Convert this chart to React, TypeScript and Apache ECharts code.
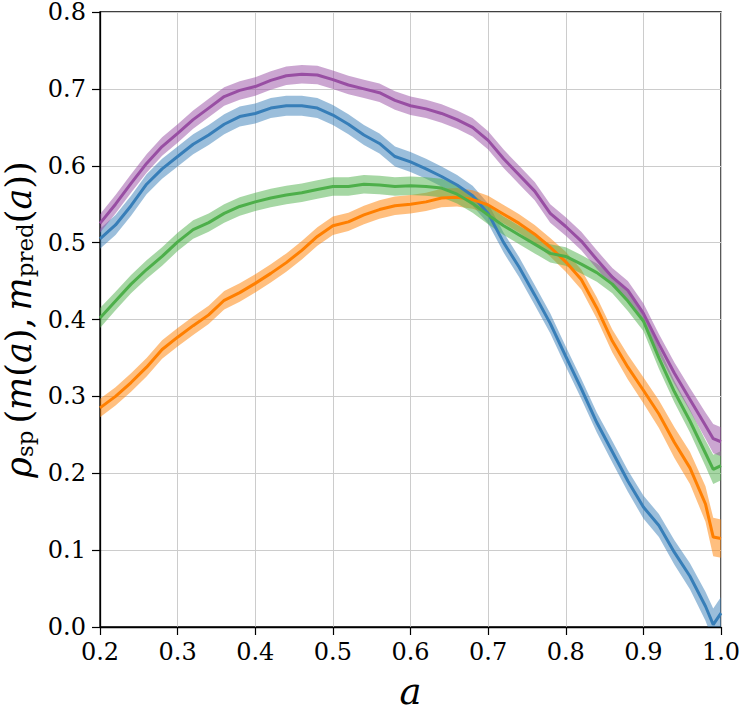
import React, { useEffect, useRef } from "react";
import * as echarts from "echarts";

const xs = [0.20, 0.22, 0.24, 0.26, 0.28, 0.30, 0.32, 0.34, 0.36, 0.38, 0.40, 0.42, 0.44, 0.46, 0.48, 0.50, 0.52, 0.54, 0.56, 0.58, 0.60, 0.62, 0.64, 0.66, 0.68, 0.70, 0.72, 0.74, 0.76, 0.78, 0.80, 0.82, 0.84, 0.86, 0.88, 0.90, 0.92, 0.94, 0.96, 0.98, 0.99, 1.00];

const purpleVals = [0.525, 0.550, 0.577, 0.603, 0.625, 0.642, 0.660, 0.675, 0.690, 0.698, 0.703, 0.711, 0.717, 0.719, 0.718, 0.712, 0.705, 0.700, 0.695, 0.685, 0.678, 0.674, 0.668, 0.660, 0.650, 0.633, 0.609, 0.588, 0.567, 0.538, 0.521, 0.502, 0.478, 0.455, 0.438, 0.408, 0.368, 0.330, 0.296, 0.262, 0.245, 0.241];
const blueVals = [0.505, 0.523, 0.548, 0.576, 0.596, 0.612, 0.628, 0.640, 0.654, 0.664, 0.668, 0.675, 0.678, 0.678, 0.675, 0.666, 0.654, 0.640, 0.629, 0.612, 0.605, 0.596, 0.586, 0.575, 0.561, 0.538, 0.500, 0.468, 0.432, 0.395, 0.352, 0.310, 0.266, 0.228, 0.190, 0.156, 0.132, 0.097, 0.066, 0.027, 0.003, 0.018];
const greenVals = [0.402, 0.424, 0.446, 0.465, 0.482, 0.501, 0.517, 0.526, 0.538, 0.547, 0.553, 0.558, 0.562, 0.565, 0.569, 0.573, 0.573, 0.576, 0.575, 0.573, 0.574, 0.573, 0.571, 0.563, 0.551, 0.536, 0.522, 0.510, 0.498, 0.486, 0.482, 0.472, 0.461, 0.446, 0.424, 0.398, 0.350, 0.306, 0.268, 0.226, 0.205, 0.210];
const orangeVals = [0.285, 0.300, 0.318, 0.338, 0.361, 0.377, 0.392, 0.406, 0.425, 0.435, 0.447, 0.460, 0.474, 0.490, 0.508, 0.522, 0.527, 0.536, 0.543, 0.548, 0.550, 0.553, 0.558, 0.559, 0.556, 0.549, 0.537, 0.525, 0.511, 0.494, 0.475, 0.452, 0.415, 0.372, 0.338, 0.308, 0.277, 0.240, 0.207, 0.160, 0.117, 0.115];

const purpleHalf = [0.012, 0.012, 0.012, 0.012, 0.012, 0.012, 0.012, 0.012, 0.012, 0.012, 0.012, 0.012, 0.012, 0.012, 0.012, 0.012, 0.012, 0.012, 0.012, 0.012, 0.012, 0.012, 0.012, 0.012, 0.012, 0.012, 0.012, 0.012, 0.012, 0.012, 0.012, 0.012, 0.012, 0.012, 0.012, 0.013, 0.013, 0.014, 0.015, 0.017, 0.019, 0.019];
const blueHalf = [0.013, 0.013, 0.013, 0.013, 0.013, 0.013, 0.013, 0.013, 0.013, 0.013, 0.013, 0.013, 0.013, 0.013, 0.013, 0.013, 0.013, 0.013, 0.013, 0.013, 0.013, 0.013, 0.013, 0.013, 0.013, 0.013, 0.013, 0.013, 0.013, 0.013, 0.013, 0.013, 0.013, 0.014, 0.014, 0.015, 0.015, 0.016, 0.017, 0.019, 0.021, 0.021];
const greenHalf = [0.013, 0.012, 0.012, 0.012, 0.012, 0.012, 0.012, 0.012, 0.012, 0.012, 0.012, 0.012, 0.012, 0.012, 0.012, 0.012, 0.012, 0.012, 0.012, 0.012, 0.012, 0.012, 0.012, 0.012, 0.012, 0.012, 0.012, 0.012, 0.012, 0.012, 0.012, 0.012, 0.012, 0.012, 0.013, 0.013, 0.014, 0.014, 0.015, 0.017, 0.019, 0.019];
const orangeHalf = [0.012, 0.012, 0.012, 0.012, 0.012, 0.012, 0.012, 0.012, 0.012, 0.012, 0.012, 0.012, 0.012, 0.012, 0.012, 0.012, 0.012, 0.012, 0.012, 0.012, 0.012, 0.012, 0.012, 0.012, 0.012, 0.012, 0.012, 0.012, 0.012, 0.012, 0.013, 0.013, 0.014, 0.015, 0.016, 0.017, 0.018, 0.020, 0.021, 0.023, 0.025, 0.025];

const xTicks = [0.2, 0.3, 0.4, 0.5, 0.6, 0.7, 0.8, 0.9, 1.0];
const yTicks = [0.0, 0.1, 0.2, 0.3, 0.4, 0.5, 0.6, 0.7, 0.8];

const COLORS = {
  blue: "#377eb8",
  orange: "#ff7f00",
  green: "#4daf4a",
  purple: "#984ea3",
};

function bandSeries(name: string, color: string, vals: number[], half: number[]) {
  const rows = xs.map((x, i) => [x, vals[i] - half[i], vals[i] + half[i]]);
  const mid = xs.map((x, i) => [x, vals[i]]);
  return [
    {
      type: "custom",
      name: name + "_band",
      data: rows,
      encode: { x: 0, y: [1, 2] },
      clip: true,
      silent: true,
      renderItem: (params: any, api: any) => {
        if (params.dataIndex !== 0) return null;
        const top = rows.map((r) => api.coord([r[0], r[2]]));
        const bot = rows.map((r) => api.coord([r[0], r[1]])).reverse();
        return {
          type: "polygon",
          shape: { points: top.concat(bot) },
          style: { fill: color, opacity: 0.5, stroke: "none" },
        };
      },
    },
    {
      type: "line",
      name,
      data: mid,
      symbol: "none",
      lineStyle: { color, width: 3 },
    },
  ];
}

const SERIF = "DejaVu Serif";

export default function App() {
  const ref = useRef<HTMLDivElement>(null);
  useEffect(() => {
    document.body.style.margin = "0";
    if (!ref.current) return;
    const chart = echarts.init(ref.current, undefined, { renderer: "svg" });
    const series = [
      ...bandSeries("blue", COLORS.blue, blueVals, blueHalf),
      ...bandSeries("orange", COLORS.orange, orangeVals, orangeHalf),
      ...bandSeries("green", COLORS.green, greenVals, greenHalf),
      ...bandSeries("purple", COLORS.purple, purpleVals, purpleHalf),
    ];
    const big = 35;
    chart.setOption({
      animation: false,
      backgroundColor: "#ffffff",
      grid: {
        left: 100,
        right: 18,
        top: 12,
        bottom: 87,
        show: true,
        borderColor: "#000",
        borderWidth: 1.3,
        backgroundColor: "transparent",
        containLabel: false,
        outerBoundsMode: "none",
      },
      xAxis: {
        type: "value",
        min: 0.2,
        max: 1.0,
        interval: 0.1,
        name: "a",
        nameLocation: "middle",
        nameGap: 46,
        nameTextStyle: {
          fontFamily: SERIF,
          fontStyle: "italic",
          fontSize: 37,
          color: "#000",
        },
        axisLine: { show: true, onZero: false, lineStyle: { color: "#000", width: 1.3 } },
        axisTick: { show: true, inside: false, length: 8, lineStyle: { color: "#000", width: 1.2 } },
        axisLabel: {
          margin: 14,
          fontFamily: SERIF,
          fontSize: 24,
          lineHeight: 22,
          color: "#000",
          formatter: (v: number) => (xTicks.some((t) => Math.abs(t - v) < 1e-6) ? v.toFixed(1) : ""),
        },
        splitLine: { show: true, lineStyle: { color: "#cccccc", width: 1 } },
      },
      yAxis: {
        type: "value",
        min: 0,
        max: 0.8,
        interval: 0.1,
        name: "{i|ρ}{s|sp}{r|\u2009(}{i|m}{r|(}{i|a}{r|),\u2009}{i|m}{s|pred}{r|(}{i|a}{r|))}",
        nameLocation: "middle",
        nameGap: 56,
        nameRotate: 90,
        nameTextStyle: {
          color: "#000",
          fontFamily: SERIF,
          fontSize: big,
          rich: {
            i: { fontFamily: SERIF, fontStyle: "italic", fontSize: big, color: "#000", lineHeight: 38, verticalAlign: "bottom" },
            r: { fontFamily: SERIF, fontSize: big, color: "#000", lineHeight: 38, verticalAlign: "bottom" },
            s: { fontFamily: SERIF, fontSize: 23, color: "#000", lineHeight: 18, verticalAlign: "bottom" },
          },
        },
        axisLine: { show: true, lineStyle: { color: "#000", width: 1.3 } },
        axisTick: { show: true, inside: false, length: 8, lineStyle: { color: "#000", width: 1.2 } },
        axisLabel: {
          margin: 14,
          fontFamily: SERIF,
          fontSize: 24,
          lineHeight: 22,
          color: "#000",
          formatter: (v: number) => (yTicks.some((t) => Math.abs(t - v) < 1e-6) ? v.toFixed(1) : ""),
        },
        splitLine: { show: true, lineStyle: { color: "#cccccc", width: 1 } },
      },
      series,
    });
    return () => chart.dispose();
  }, []);
  return <div ref={ref} style={{ width: 739, height: 714 }} />;
}
